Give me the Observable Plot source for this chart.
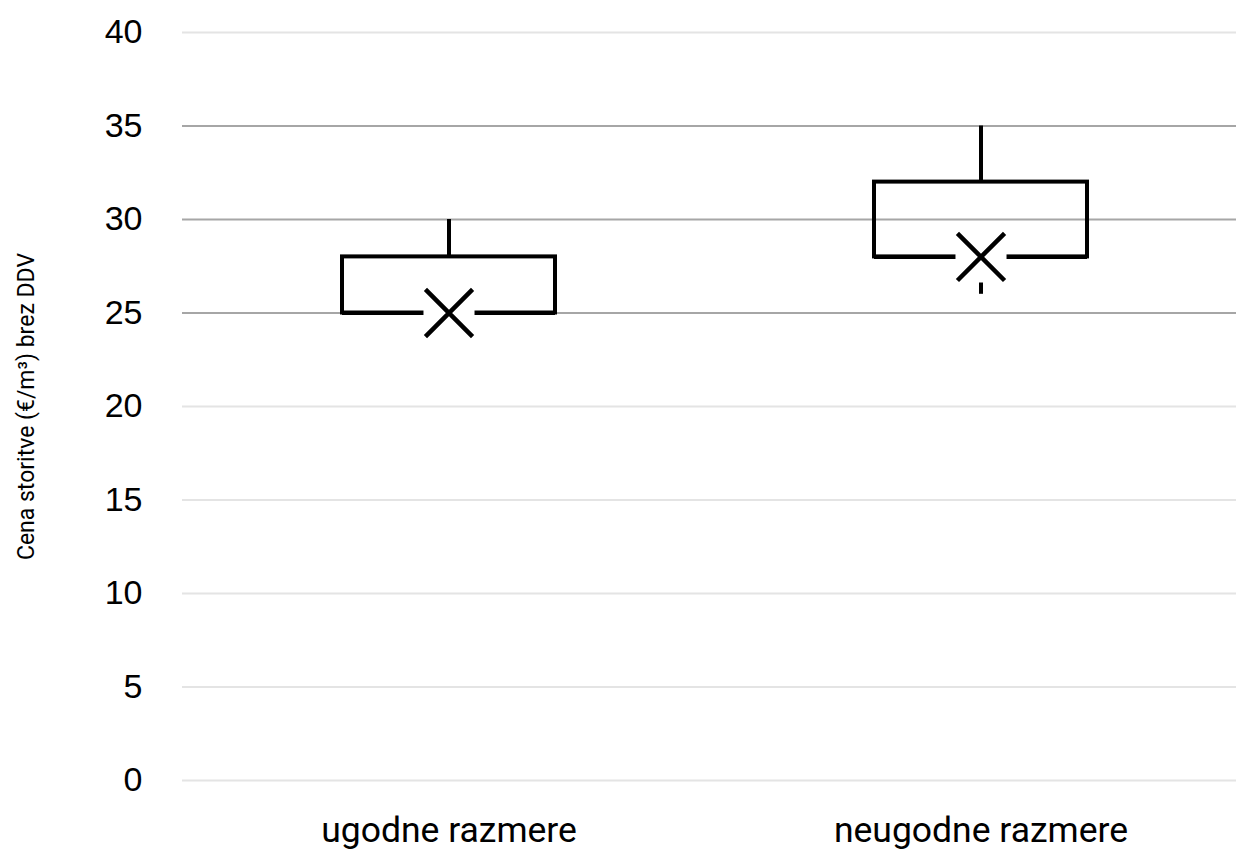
<!DOCTYPE html>
<html>
<head>
<meta charset="utf-8">
<script src="https://cdn.jsdelivr.net/npm/d3@7"></script>
<script src="https://cdn.jsdelivr.net/npm/@observablehq/plot@0.6"></script>
<style>
  html, body { margin: 0; padding: 0; background: #fff; }
  #chart svg { display: block; }
</style>
</head>
<body>
<div id="chart"></div>
<script>
// Data
const categories = ["ugodne razmere", "neugodne razmere"];
const minVals    = [25, 26];
const q1Vals     = [25, 28];
const medianVals = [25, 28];
const q3Vals     = [28, 32];
const maxVals    = [30, 35];
const meanVals   = [25, 28];
const yTicks     = [0, 5, 10, 15, 20, 25, 30, 35, 40];
const yLabel     = "Cena storitve (€/m³) brez DDV";

const rows = categories.map((c, i) => ({
  cat: c, min: minVals[i], q1: q1Vals[i], median: medianVals[i],
  q3: q3Vals[i], max: maxVals[i], mean: meanVals[i]
}));

const darkGrid = new Set([25, 30, 35]);

const chart = Plot.plot({
  width: 1236,
  height: 850,
  marginLeft: 182,
  marginRight: 0,
  marginTop: 32,
  marginBottom: 70,
  style: { fontFamily: "'Liberation Sans', Arial, sans-serif", background: "#fff", color: "#000" },
  x: { domain: categories, range: [182, 1246], paddingInner: 0.6, paddingOuter: 0.3, label: null },
  y: { domain: [0, 40], label: null },
  marks: [
    Plot.ruleY(yTicks, { stroke: d => darkGrid.has(d) ? "#a6a6a6" : "#e4e4e4", strokeWidth: 2 }),
    Plot.axisY({ ticks: yTicks, tickSize: 0, tickPadding: 40, fontSize: 34, label: null }),
    Plot.axisX({ tickSize: 0, tickPadding: 36, fontSize: 35.5, fontFamily: "Roboto, sans-serif", label: null }),
    Plot.text([yLabel], { frameAnchor: "left", textAnchor: "middle", rotate: -90, dx: -156, fontSize: 23, fontFamily: "Roboto, sans-serif", fill: "#000" }),
    // whiskers
    Plot.ruleX(rows, { x: "cat", y1: "q3", y2: "max", stroke: "#000", strokeWidth: 4 }),
    Plot.ruleX(rows, { x: "cat", y1: "min", y2: "q1", stroke: "#000", strokeWidth: 4 }),
    // box
    Plot.barY(rows, { x: "cat", y1: "q1", y2: "q3", fill: "none", stroke: "#000", strokeWidth: 4, strokeLinejoin: "miter" }),
    Plot.tickY(rows, { x: "cat", y: "median", stroke: "#000", strokeWidth: 4 }),
    // mean marker with white halo
    Plot.dot(rows, { x: "cat", y: "mean", symbol: "square", r: 28.8, fill: "#fff", stroke: "none" }),
    Plot.dot(rows, { x: "cat", y: "mean", symbol: "times", r: 21.5, stroke: "#000", strokeWidth: 4.5, fill: "none" })
  ]
});

document.getElementById("chart").appendChild(chart);
</script>
</body>
</html>
